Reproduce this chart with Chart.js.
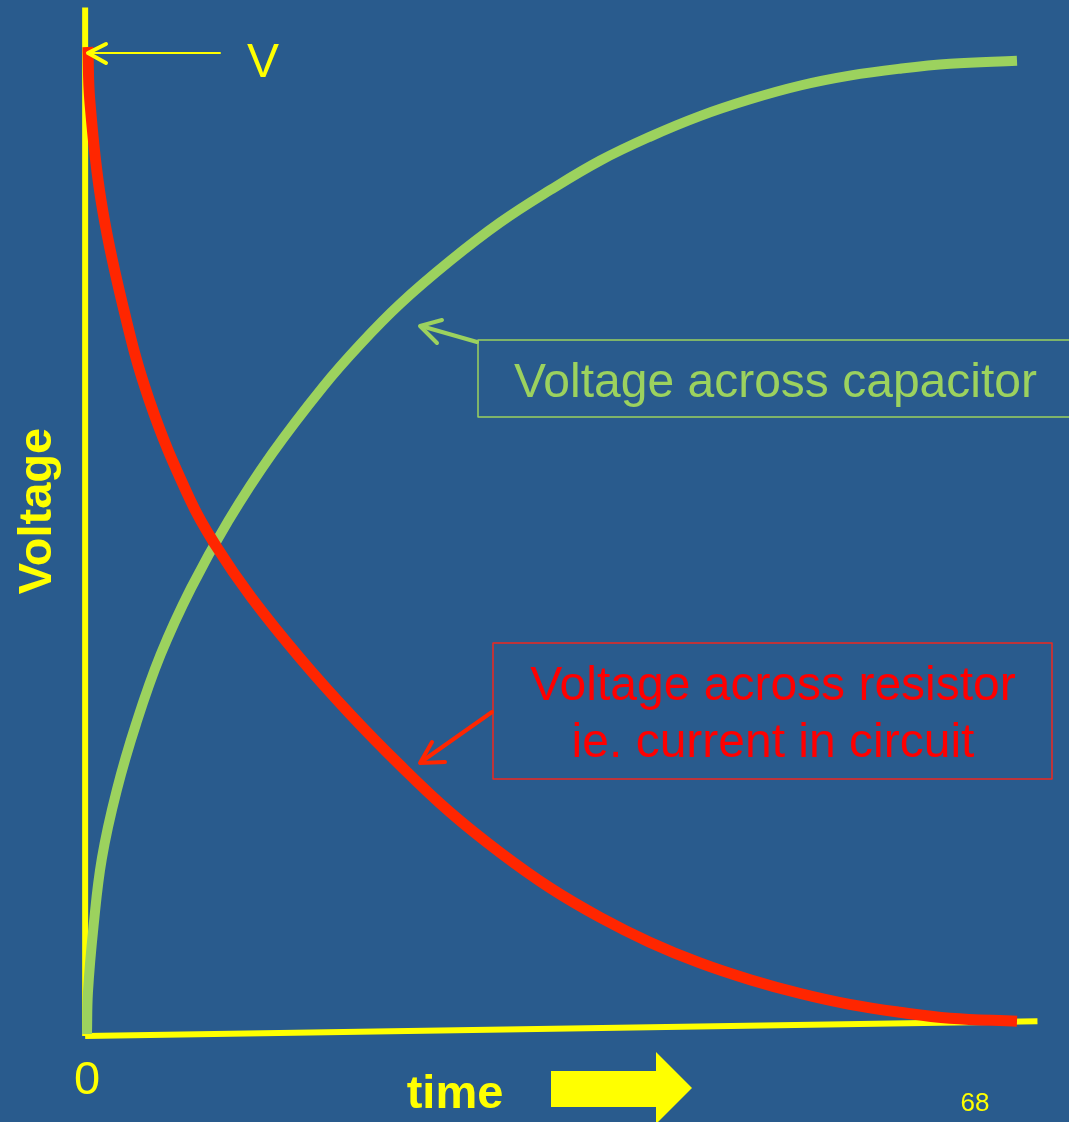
<!DOCTYPE html>
<html>
<head>
<meta charset="utf-8">
<title>RC charging</title>
<script src="https://cdn.jsdelivr.net/npm/chart.js@4.4.1/dist/chart.umd.min.js"></script>
<style>
  html, body { margin:0; padding:0; background:#295B8D; }
  #wrap { position:relative; width:1069px; height:1122px; }
</style>
</head>
<body>
<div id="wrap"><canvas id="rc"></canvas></div>
<script>
// values: time 0..10, voltage in % of V
const resistorTime = [0.01, 0.03, 0.15, 0.37, 0.67, 1.11, 1.39, 1.77, 2.29, 2.83, 3.37, 3.90, 4.44, 4.98, 5.52, 6.05, 6.59, 7.13, 7.67, 8.20, 8.74, 9.28, 10];
const resistorVolt = [100, 94.6, 84.5, 74.4, 64.2, 54.1, 49.4, 44.2, 38.1, 32.4, 27.2, 22.5, 18.4, 14.8, 11.8, 9.3, 7.2, 5.5, 4.1, 3.0, 2.2, 1.6, 1.3];

const capTime = [0, 0.01, 0.07, 0.16, 0.32, 0.53, 0.79, 1.12, 1.52, 1.99, 2.54, 2.94, 3.37, 3.90, 4.44, 4.98, 5.52, 6.05, 6.59, 7.13, 7.67, 8.20, 8.74, 9.28, 10];
const capVolt = [0, 4.2, 10.9, 17.8, 24.7, 31.5, 38.4, 45.2, 52.0, 58.8, 65.6, 69.9, 74.0, 78.3, 82.2, 85.5, 88.5, 90.9, 93.0, 94.7, 96.1, 97.1, 97.8, 98.3, 98.6];

// hand-drawn axes (the time axis is slightly tilted)
const axisVTime = [-0.02, -0.02];
const axisVVolt = [-0.2, 104];
const axisHTime = [-0.02, 10.22];
const axisHVolt = [-0.2, 1.3];

const YELLOW = '#FFFF00', GREEN = '#9CD25E', RED = '#FF2600', TXTRED = '#FF0000';
const FONT = '"Liberation Sans", Arial, sans-serif';

const pts = (xs, ys) => xs.map((x,i)=>({x, y: ys[i]}));

function chevron(ctx, tipX, tipY, a1x, a1y, a2x, a2y){
  ctx.beginPath();
  ctx.moveTo(a1x, a1y); ctx.lineTo(tipX, tipY); ctx.lineTo(a2x, a2y);
  ctx.stroke();
}

const labels = {
  id: 'labels',
  afterDatasetsDraw(chart){
    const ctx = chart.ctx;
    ctx.save();
    ctx.lineCap = 'round'; ctx.lineJoin = 'round';

    // V marker
    ctx.strokeStyle = YELLOW; ctx.lineWidth = 2;
    ctx.beginPath(); ctx.moveTo(220, 53); ctx.lineTo(89, 53); ctx.stroke();
    ctx.lineWidth = 4;
    chevron(ctx, 88, 53, 106, 44, 106, 63);
    ctx.fillStyle = YELLOW;
    ctx.font = '48px ' + FONT;
    ctx.textAlign = 'center'; ctx.textBaseline = 'alphabetic';
    ctx.fillText('V', 263, 77);

    // capacitor label
    ctx.strokeStyle = GREEN; ctx.lineWidth = 1.5;
    ctx.strokeRect(478, 340, 600, 77);
    ctx.lineWidth = 4;
    ctx.beginPath(); ctx.moveTo(477, 342); ctx.lineTo(421, 326); ctx.stroke();
    chevron(ctx, 420, 326, 442, 320, 437, 343);
    ctx.fillStyle = GREEN;
    ctx.font = '48px ' + FONT;
    ctx.textAlign = 'left';
    ctx.fillText('Voltage across capacitor', 514, 397);

    // resistor label
    ctx.strokeStyle = '#F0281E'; ctx.lineWidth = 1.5;
    ctx.strokeRect(493, 643, 559, 136);
    ctx.strokeStyle = RED; ctx.lineWidth = 4;
    ctx.beginPath(); ctx.moveTo(492, 712); ctx.lineTo(421, 762); ctx.stroke();
    chevron(ctx, 420, 763, 432, 742, 445, 762);
    ctx.fillStyle = TXTRED;
    ctx.textAlign = 'center';
    ctx.fillText('Voltage across resistor', 773, 700);
    ctx.fillText('ie. current in circuit', 773, 757);

    // axis texts
    ctx.fillStyle = YELLOW;
    ctx.font = '47px ' + FONT;
    ctx.fillText('0', 87, 1094);
    ctx.font = 'bold 47px ' + FONT;
    ctx.fillText('time', 455, 1108);
    ctx.save();
    ctx.translate(51, 511); ctx.rotate(-Math.PI/2);
    ctx.fillText('Voltage', 0, 0);
    ctx.restore();
    ctx.font = '26px ' + FONT;
    ctx.fillText('68', 975, 1111);

    // block arrow next to "time"
    ctx.beginPath();
    ctx.moveTo(551, 1071); ctx.lineTo(656, 1071); ctx.lineTo(656, 1052);
    ctx.lineTo(692, 1088); ctx.lineTo(656, 1124); ctx.lineTo(656, 1107);
    ctx.lineTo(551, 1107); ctx.closePath();
    ctx.fill();

    ctx.restore();
  }
};

new Chart(document.getElementById('rc'), {
  type: 'line',
  data: {
    datasets: [
      { label:'resistor', data: pts(resistorTime, resistorVolt), borderColor: RED, borderWidth: 11,
        tension:0.4, pointRadius:0, clip:false, borderCapStyle:'butt' },
      { label:'capacitor', data: pts(capTime, capVolt), borderColor: GREEN, borderWidth: 10,
        tension:0.4, pointRadius:0, clip:false, borderCapStyle:'butt' },
      { label:'vaxis', data: pts(axisVTime, axisVVolt), borderColor: YELLOW, borderWidth: 6,
        tension:0, pointRadius:0, clip:false },
      { label:'haxis', data: pts(axisHTime, axisHVolt), borderColor: YELLOW, borderWidth: 6,
        tension:0, pointRadius:0, clip:false }
    ]
  },
  options: {
    responsive: true,
    maintainAspectRatio: false,
    animation: false,
    events: [],
    layout: { padding: { left: 87, right: 52, top: 47, bottom: 88 } },
    scales: {
      x: { type:'linear', min:0, max:10, display:false },
      y: { type:'linear', min:0, max:100, display:false }
    },
    plugins: { legend:{ display:false }, tooltip:{ enabled:false } }
  },
  plugins: [labels]
});
</script>
</body>
</html>
